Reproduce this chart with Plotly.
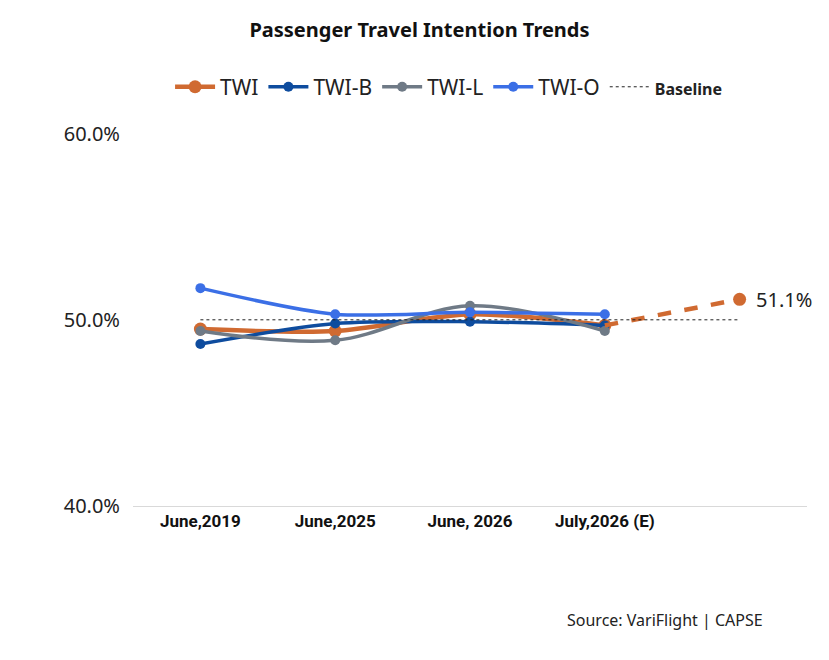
import plotly.graph_objects as go

categories = ["June,2019", "June,2025", "June, 2026", "July,2026 (E)"]
twi = [49.5, 49.4, 50.3, 49.7]
twi_forecast = [49.7, 51.1]
twi_b = [48.7, 49.8, 49.9, 49.7]
twi_l = [49.4, 48.9, 50.75, 49.4]
twi_o = [51.7, 50.3, 50.4, 50.3]
baseline = 50.0
y_ticks = [40, 50, 60]

idx = list(range(len(categories)))
fc_idx = [len(categories) - 1, len(categories)]

C_TWI = "#D06A31"
C_B = "#0E4C9E"
C_L = "#6F7A86"
C_O = "#3B6FE6"

fig = go.Figure()
fig.add_trace(go.Scatter(x=idx, y=twi, name="TWI", mode="lines+markers",
                         line=dict(color=C_TWI, width=4.5, shape="spline", smoothing=0.8),
                         marker=dict(size=13, color=C_TWI)))
fig.add_trace(go.Scatter(x=idx, y=twi_b, name="TWI-B", mode="lines+markers",
                         line=dict(color=C_B, width=3.5, shape="spline", smoothing=0.8),
                         marker=dict(size=10, color=C_B)))
fig.add_trace(go.Scatter(x=idx, y=twi_l, name="TWI-L", mode="lines+markers",
                         line=dict(color=C_L, width=3.5, shape="spline", smoothing=1.0),
                         marker=dict(size=10, color=C_L)))
fig.add_trace(go.Scatter(x=idx, y=twi_o, name="TWI-O", mode="lines+markers",
                         line=dict(color=C_O, width=3.5, shape="spline", smoothing=0.8),
                         marker=dict(size=10, color=C_O)))
fig.add_trace(go.Scatter(x=fc_idx, y=twi_forecast, mode="lines", showlegend=False,
                         line=dict(color=C_TWI, width=4.5, dash="dash")))
fig.add_trace(go.Scatter(x=fc_idx[-1:], y=twi_forecast[-1:], mode="markers", showlegend=False,
                         marker=dict(size=13, color=C_TWI)))
fig.add_trace(go.Scatter(x=[0, len(categories)], y=[baseline, baseline],
                         name="<b><span style='font-size:16px'>Baseline</span></b>",
                         mode="lines",
                         line=dict(color="#222", width=1, dash="dot")))

fig.add_annotation(x=fc_idx[-1], y=twi_forecast[-1], text=f"{twi_forecast[-1]:.1f}%",
                   showarrow=False, xanchor="left", yanchor="middle", xshift=14,
                   font=dict(size=20, color="#222"))

fig.update_layout(
    width=829, height=660,
    margin=dict(l=133, r=22, t=131, b=154),
    paper_bgcolor="white", plot_bgcolor="white",
    font=dict(family="Noto Sans, Open Sans, sans-serif", color="#222"),
    title=dict(text="<b>Passenger Travel Intention Trends</b>", x=0.506, xanchor="center",
               y=0.955, yanchor="middle", font=dict(size=20, color="#111")),
    legend=dict(orientation="h", x=0.055, xanchor="left", y=0.868, yref="container",
                yanchor="middle", font=dict(size=21, color="#222"), itemwidth=40,
                tracegroupgap=0, traceorder="normal"),
    showlegend=True,
)
fig.update_xaxes(range=[-0.5, len(categories) + 0.5], tickvals=idx,
                 ticktext=[f"<b>{c}</b>" for c in categories],
                 showgrid=False, zeroline=False, showline=True, linecolor="#D9D9D9", linewidth=1,
                 ticks="", tickfont=dict(size=17, color="#111",
                                         family="Liberation Sans Narrow, Arial Narrow, Roboto, sans-serif"))
fig.update_yaxes(range=[40, 60], tickvals=y_ticks, ticktext=[f"{v:.1f}%" for v in y_ticks],
                 showgrid=False, zeroline=False, showline=False, ticks="",
                 tickfont=dict(size=20, color="#222"), ticklabelstandoff=12)
fig.add_annotation(text="Source: VariFlight | CAPSE", xref="paper", yref="paper",
                   x=1 - (829 - 765 - 22) / 674, xanchor="right", y=-0.305, yanchor="middle",
                   showarrow=False, font=dict(size=16, color="#222"))
fig.write_html("out.html")
